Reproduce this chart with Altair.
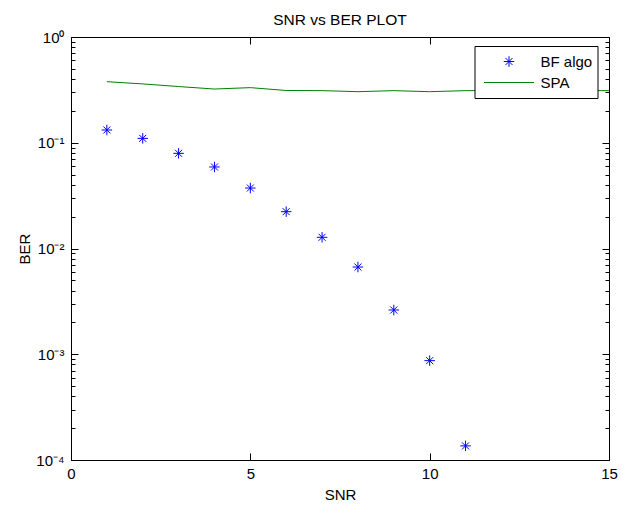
import altair as alt
import pandas as pd

# ---- data ----
snr_bf = [1, 2, 3, 4, 5, 6, 7, 8, 9, 10, 11]
ber_bf = [0.132, 0.110, 0.0794, 0.059, 0.0373, 0.0223, 0.01276, 0.00668, 0.00262, 0.00087, 0.000136]

snr_spa = [1, 2, 3, 4, 5, 6, 7, 8, 9, 10, 11, 12, 13, 14, 15]
ber_spa = [0.378, 0.360, 0.340, 0.322, 0.332, 0.312, 0.311, 0.304, 0.311, 0.304, 0.311, 0.312, 0.310, 0.312, 0.311]

series_names = ["BF algo", "SPA"]
series_colors = ["#0000ff", "#008000"]

x_ticks = [0, 5, 10, 15]
y_decades = [1, 0.1, 0.01, 0.001, 0.0001]
y_tick_labels = ["10⁰", "10⁻¹", "10⁻²", "10⁻³", "10⁻⁴"]
y_minor_mult = [1, 2, 3, 4, 5, 6, 7, 8, 9]

FONT = "Liberation Sans"
FS = 15

df_bf = pd.DataFrame({"snr": snr_bf, "ber": ber_bf, "series": series_names[0]})
df_spa = pd.DataFrame({"snr": snr_spa, "ber": ber_spa, "series": series_names[1]})

y_values = sorted({round(d * m, 6) for d in y_decades[1:] for m in y_minor_mult} | {1.0})

is_major = "(abs(log(datum.value)/LN10 - round(log(datum.value)/LN10)) < 0.001)"
tick_len = {"expr": f"{is_major} ? -7 : -4"}
label_list = "[" + ",".join("'" + s + "'" for s in y_tick_labels) + "]"
y_label_expr = f"{is_major} ? {label_list}[round(-log(datum.value)/LN10)] : ''"

star_path = "M-0.21,0L0.21,0M0,-0.21L0,0.21M-0.14,-0.14L0.14,0.14M-0.14,0.14L0.14,-0.14"
line_path = "M-1,0L1,0"

xscale = alt.Scale(domain=[0, 15], nice=False, zero=False)
yscale = alt.Scale(type="log", domain=[0.0001, 1], nice=False)
color_scale = alt.Scale(domain=series_names, range=series_colors)
shape_scale = alt.Scale(domain=series_names, range=[star_path, line_path])

leg = alt.Legend(title=None, labelExpr="datum.label + '   '")

pts = alt.Chart(df_bf).mark_point(filled=False, size=2500, strokeWidth=1, opacity=1).encode(
    x=alt.X("snr:Q", scale=xscale, axis=alt.Axis(
        orient="bottom", values=x_ticks, tickSize={"expr": "-7"}, labelPadding=13.5,
        domain=False, grid=False, title="SNR", titleY=34, titleBaseline="middle",
        labelFlush=False)),
    y=alt.Y("ber:Q", scale=yscale, axis=alt.Axis(
        orient="left", values=y_values, tickSize=tick_len, labelExpr=y_label_expr,
        labelPadding=14, labelOverlap=False, domain=False, grid=False,
        title="BER", titleX=-46.5, titleBaseline="middle")),
    color=alt.Color("series:N", scale=color_scale, legend=leg),
    shape=alt.Shape("series:N", scale=shape_scale, legend=leg),
)

line = alt.Chart(df_spa).mark_line(strokeWidth=1).encode(
    x=alt.X("snr:Q", scale=xscale, axis=alt.Axis(
        orient="top", values=x_ticks, tickSize={"expr": "-7"}, labels=False,
        domain=False, grid=False, title=None)),
    y=alt.Y("ber:Q", scale=yscale, axis=alt.Axis(
        orient="right", values=y_values, tickSize=tick_len, labels=False,
        domain=False, grid=False, title=None)),
    color=alt.Color("series:N", scale=color_scale, legend=leg),
)

chart = alt.layer(pts, line).resolve_scale(x="independent", y="independent").properties(
    width=538, height=423,
    title=alt.TitleParams("SNR vs BER PLOT", font=FONT, fontSize=15.5, fontWeight="normal",
                          color="black", anchor="middle", frame="group",
                          baseline="alphabetic", offset=12, dy=22),
    autosize=alt.AutoSizeParams(type="none"),
    padding={"left": 71, "top": 37, "right": 12, "bottom": 50},
    background="white",
).configure_view(
    stroke="black", strokeWidth=1, fill="white"
).configure_axis(
    labelFont=FONT, labelFontSize=FS, labelColor="black",
    titleFont=FONT, titleFontSize=FS, titleFontWeight="normal", titleColor="black",
    tickColor="black", tickWidth=1,
).configure_legend(
    orient="none", legendX=403.5, legendY=9,
    padding=5, symbolOffset=4, clipHeight=21, rowPadding=0,
    labelOffset=6, labelFont=FONT, labelFontSize=FS, labelColor="black",
    symbolSize=2500, symbolStrokeWidth=1, symbolFillColor="transparent",
    strokeColor="black", fillColor="white", cornerRadius=0,
)

chart.save("out.html", embed_options={"renderer": "svg", "actions": False})
